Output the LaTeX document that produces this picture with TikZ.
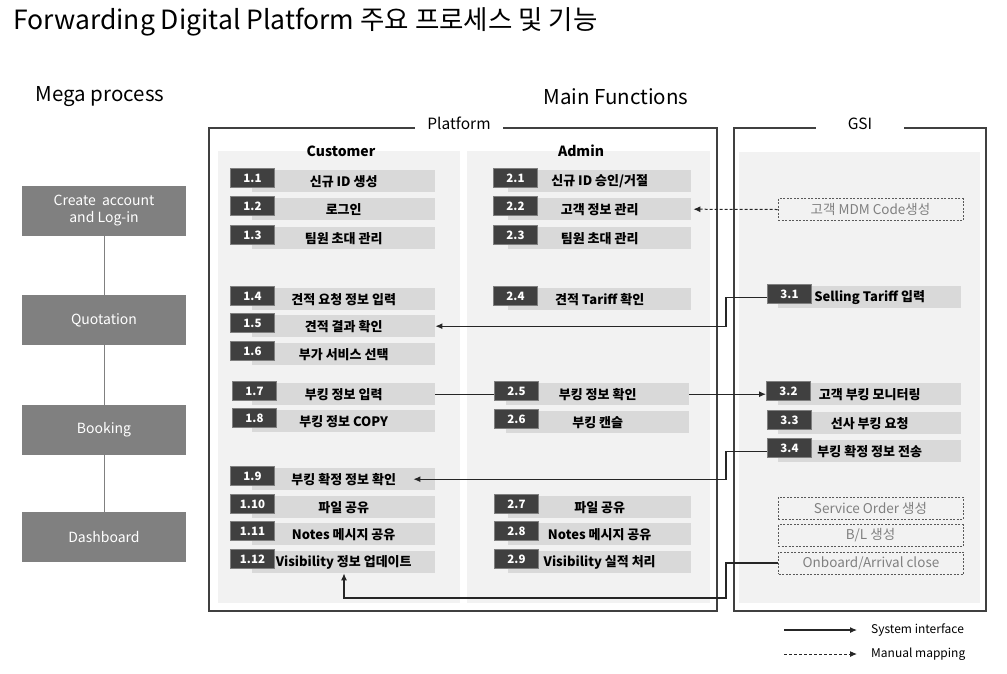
\documentclass[tikz,border=0pt]{standalone}
\usepackage{fontspec}
\setmainfont{Noto Sans CJK KR}
\usetikzlibrary{arrows.meta}
\definecolor{numc}{HTML}{404040}
\definecolor{numb}{HTML}{7F7F7F}
\definecolor{barc}{HTML}{D9D9D9}
\definecolor{panc}{HTML}{F2F2F2}
\definecolor{framec}{HTML}{404040}
\definecolor{megac}{HTML}{808080}
\definecolor{dashc}{HTML}{595959}
\definecolor{gtext}{HTML}{808080}
\definecolor{linec}{HTML}{262626}
% #1 id, #2 number box x, #3 bar x, #4 bar top y, #5 number, #6 text
\newcommand\fitem[6]{%
  \node[barbox, anchor=north west] (b#1) at (#3,#4) {#6};
  \node[numbox, anchor=north west] (n#1) at (#2,#4-2) {#5};
}
\begin{document}
\begin{tikzpicture}[x=1pt,y=-1pt,
  barbox/.style={fill=barc, draw=none, minimum width=183pt, minimum height=22pt, inner sep=0pt,
    font=\bfseries\fontsize{13}{15}\selectfont},
  numbox/.style={fill=numc, draw=numb, line width=1pt, minimum width=44pt, minimum height=19pt,
    inner sep=0pt, text=white, font=\bfseries\fontsize{11.5}{13}\selectfont},
  dbox/.style={fill=panc, draw=dashc, dash pattern=on 2pt off 1.5pt, line width=0.8pt,
    minimum width=185pt, minimum height=22pt, inner sep=0pt, text=gtext,
    font=\fontsize{13.5}{15}\selectfont},
  megabox/.style={fill=megac, text=white, minimum width=164pt, minimum height=50pt,
    inner sep=0pt, align=center, font=\fontsize{14}{17}\selectfont},
  megaline/.style={draw=megac, line width=1pt},
  frame/.style={draw=framec, line width=2pt},
  flabel/.style={fill=white, minimum width=88pt, minimum height=16pt, inner sep=0pt,
    font=\fontsize{15.5}{18}\selectfont},
  colhead/.style={font=\bfseries\fontsize{14}{16}\selectfont, inner sep=0pt},
  sys/.style={draw=linec, line width=1.1pt, -{Latex[length=7pt,width=6pt]}},
  sysplain/.style={draw=linec, line width=1.1pt},
  man/.style={draw=linec, line width=1pt, dash pattern=on 3pt off 2pt, -{Latex[length=7pt,width=6pt]}},
  head/.style={font=\fontsize{20.5}{24}\selectfont, inner sep=0pt},
  legtext/.style={anchor=west, font=\fontsize{12}{14}\selectfont, inner sep=0pt}
]
\useasboundingbox (0,0) rectangle (1007,673);
\fill[white] (0,0) rectangle (1007,673);

% title and headings
\node[anchor=west, inner sep=0pt, font=\fontsize{26.5}{30}\selectfont] (title) at (13,22)
  {Forwarding Digital Platform 주요 프로세스 및 기능};
\node[head] (mega) at (100,97) {Mega process};
\node[head] (mainf) at (616,97) {Main Functions};

% mega process
\node[megabox] (m1) at (104,211) {Create~~account\\and Log-in};
\node[megabox] (m2) at (104,320) {Quotation};
\node[megabox] (m3) at (104,430) {Booking};
\node[megabox] (m4) at (104,537) {Dashboard};
\draw[megaline] (m1) -- (m2);
\draw[megaline] (m2) -- (m3);
\draw[megaline] (m3) -- (m4);

% panels and frames
\fill[panc] (218,151) rectangle (460,603);
\fill[panc] (467,151) rectangle (710,603);
\fill[panc] (739,152) rectangle (980,603);
\draw[frame] (209,128) rectangle (717,611);
\draw[frame] (734,128) rectangle (986,611);
\node[flabel] (plat) at (459,123) {Platform};
\node[flabel] (gsi) at (860,124) {GSI};
\node[colhead] (cust) at (341,151) {Customer};
\node[colhead] (adm) at (581,151) {Admin};

% customer items
\fitem{11}{230}{252}{170}{1.1}{신규 ID 생성}
\fitem{12}{230}{252}{198}{1.2}{로그인}
\fitem{13}{230}{252}{227}{1.3}{팀원 초대 관리}
\fitem{14}{230}{252}{288}{1.4}{견적 요청 정보 입력}
\fitem{15}{230}{252}{315}{1.5}{견적 결과 확인}
\fitem{16}{230}{252}{343}{1.6}{부가 서비스 선택}
\fitem{17}{232}{252}{383}{1.7}{부킹 정보 입력}
\fitem{18}{232}{252}{410}{1.8}{부킹 정보 COPY}
\fitem{19}{230}{252}{468}{1.9}{부킹 확정 정보 확인}
\fitem{110}{230}{252}{496}{1.10}{파일 공유}
\fitem{111}{230}{252}{523}{1.11}{Notes 메시지 공유}
\fitem{112}{230}{252}{551}{1.12}{Visibility 정보 업데이트}

% admin items
\fitem{21}{493}{508}{170}{2.1}{신규 ID 승인/거절}
\fitem{22}{493}{508}{198}{2.2}{고객 정보 관리}
\fitem{23}{493}{508}{227}{2.3}{팀원 초대 관리}
\fitem{24}{493}{508}{288}{2.4}{견적 Tariff 확인}
\fitem{25}{494}{506}{383}{2.5}{부킹 정보 확인}
\fitem{26}{494}{506}{411}{2.6}{부킹 캔슬}
\fitem{27}{494}{508}{496}{2.7}{파일 공유}
\fitem{28}{494}{508}{523}{2.8}{Notes 메시지 공유}
\fitem{29}{494}{508}{551}{2.9}{Visibility 실적 처리}

% GSI items
\node[dbox] (mdm) at (870.5,209.5) {고객 MDM Code생성};
\fitem{31}{767}{778}{286}{3.1}{Selling Tariff 입력}
\fitem{32}{766}{778}{383}{3.2}{고객 부킹 모니터링}
\fitem{33}{767}{778}{412}{3.3}{선사 부킹 요청}
\fitem{34}{767}{778}{440}{3.4}{부킹 확정 정보 전송}
\node[dbox] (svc) at (870.5,508) {Service Order 생성};
\node[dbox] (bl) at (870.5,535.5) {B/L 생성};
\node[dbox] (onb) at (871,563) {Onboard/Arrival close};

% connectors
\coordinate (k1) at (726,0);
\coordinate (k2) at (344,598);
\draw[man] (mdm.west) -- ([xshift=2pt]b22.east);
\draw[sys] (n31.west |- b31.west) -- (k1 |- b31.west) -- (k1 |- b15.east) -- (b15.east);
\draw[sysplain] (b17.east) -- (n25.west |- b17.east);
\draw[sys] (b25.east) -- (n32.west |- b25.east);
\draw[sys] (n34.west |- b34.west) -- (k1 |- b34.west) -- (k1 |- b19.east) -- ([xshift=-22pt]b19.east);
\draw[sys] (onb.west) -- (k1 |- onb.west) -- (k1 |- k2) -- (k2) -- (k2 |- b112.south);

% legend
\coordinate (la) at (784,630);
\coordinate (lb) at (857,630);
\coordinate (lc) at (784,654);
\coordinate (ld) at (857,654);
\draw[sys] (la) -- (lb);
\draw[man] (lc) -- (ld);
\node[legtext] (lt1) at (871,630) {System interface};
\node[legtext] (lt2) at (871,654) {Manual mapping};
\end{tikzpicture}
\end{document}
